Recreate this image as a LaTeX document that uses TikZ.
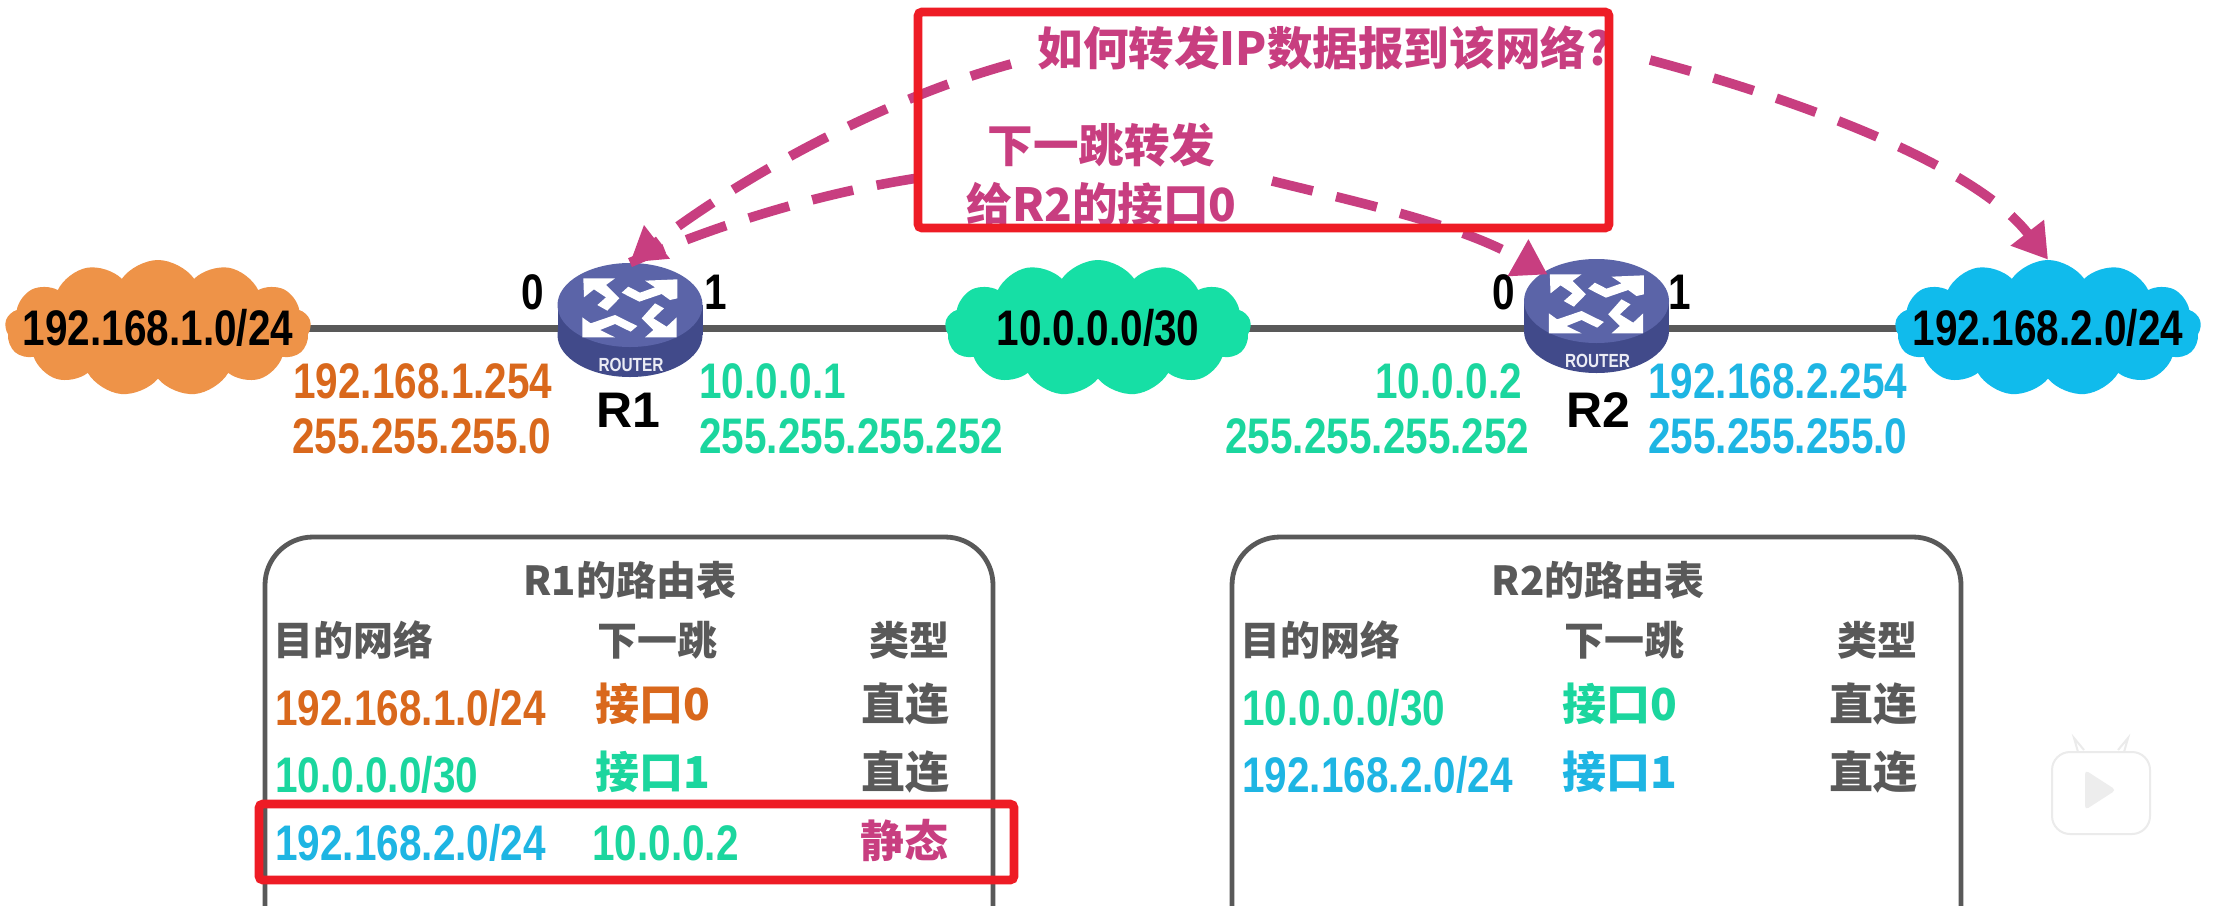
\documentclass[tikz,border=0pt]{standalone}
\usepackage{fontspec}
\usetikzlibrary{shapes.symbols,shapes.geometric,arrows.meta,backgrounds}
\newfontfamily\cnd[FakeStretch=0.81]{Liberation Sans}
\newfontfamily\plainb{Liberation Sans}
\newfontfamily\cjk{Noto Sans CJK SC}
\definecolor{corange}{HTML}{EE9348}
\definecolor{cgreen}{HTML}{16DFA5}
\definecolor{cblue}{HTML}{10BBEC}
\definecolor{torange}{HTML}{D9681C}
\definecolor{tgreen}{HTML}{1BD69E}
\definecolor{tblue}{HTML}{1EB5E3}
\definecolor{pinkc}{HTML}{C83E80}
\definecolor{redc}{HTML}{EE1C25}
\definecolor{greyc}{HTML}{595959}
\definecolor{rtop}{HTML}{5B64A8}
\definecolor{rside}{HTML}{414A8A}
\tikzset{
  netcloud/.style={cloud,cloud puffs=13,cloud puff arc=110,aspect=2.05,draw=none,inner sep=0pt,
    minimum width=153pt,minimum height=68pt,text=black,font=\cnd\bfseries\fontsize{25}{25}\selectfont},
  hub/.style={ellipse,minimum width=72.5pt,minimum height=57pt,inner sep=0pt},
  link/.style={draw=greyc,line width=3.5pt},
  ptr/.style={draw=pinkc,line width=4.8pt,dash pattern=on 21pt off 12pt,-{Triangle[length=17pt,width=20pt]}},
  ptrplain/.style={draw=pinkc,line width=4.8pt,dash pattern=on 21pt off 12pt},
  redbox/.style={draw=redc,line width=4.4pt,rounded corners=2pt},
  tablebox/.style={draw=greyc,line width=2.4pt,rounded corners=24pt},
  ip/.style={inner sep=0pt,anchor=west,font=\cnd\bfseries\fontsize{25}{25}\selectfont},
  port/.style={inner sep=0pt,text=black,font=\cnd\bfseries\fontsize{25}{25}\selectfont},
  rname/.style={inner sep=0pt,text=black,font=\plainb\bfseries\fontsize{25}{25}\selectfont},
  cn/.style={inner sep=0pt,anchor=west,font=\cjk\bfseries\fontsize{20}{20}\selectfont},
  cnbig/.style={inner sep=0pt,anchor=west,font=\cjk\bfseries\fontsize{22}{22}\selectfont},
  talk/.style={inner sep=0pt,anchor=west,text=pinkc,font=\cjk\bfseries\fontsize{22.8}{22.8}\selectfont},
  glyph/.style={fill=white},
}
\newcommand\routerglyph[3]{%
  \begin{scope}[shift={(#1,#2)}]
    \fill[rside] (0,30) ellipse [x radius=72.5,y radius=42];
    \fill[rside] (-72.5,0) rectangle (72.5,30);
    \fill[rtop] (0,0) ellipse [x radius=72.5,y radius=42];
    \node[inner sep=0pt,text=white!88!rtop,font=\cnd\bfseries\fontsize{9.5}{9.5}\selectfont] (#3) at (1,60) {ROUTER};
    \begin{scope}[x=0.16667pt,y=-0.16667pt,shift={(-330,-195)}]
      \fill[glyph] (190,115)--(285,115)--(258,135)--(298,175)--(262,212)--(232,195)--(258,172)--(222,148)--(192,172)--cycle;
      \fill[glyph] (472,118)--(375,122)--(405,142)--(360,158)--(325,140)--(305,158)--(358,185)--(425,162)--(450,180)--(472,175)--cycle;
      \fill[glyph] (187,292)--(187,232)--(212,250)--(285,225)--(352,258)--(332,275)--(285,252)--(240,270)--(285,292)--cycle;
      \fill[glyph] (470,292)--(375,292)--(400,270)--(365,235)--(405,190)--(432,205)--(400,235)--(440,260)--(470,232)--cycle;
    \end{scope}
  \end{scope}}
\begin{document}
\begin{tikzpicture}[x=0.5pt,y=-0.5pt]
\useasboundingbox (0,0) rectangle (2214,905);
\clip (0,0) rectangle (2214,905);
% hubs (invisible anchors for the routers)
\node[hub] (r1) at (630,320) {};
\node[hub] (r2) at (1596.5,317) {};
% clouds
\node[netcloud,fill=corange] (c1) at (158,328) {\makebox[0pt]{192.168.1.0/24}};
\node[netcloud,fill=cgreen] (c2) at (1098,328) {\makebox[0pt]{10.0.0.0/30}};
\node[netcloud,fill=cblue] (c3) at (2048,328) {\makebox[0pt]{192.168.2.0/24}};
\begin{scope}[on background layer]
  \fill[white] (0,0) rectangle (2214,905);
  \draw[link] (c1.center) -- (c1.center -| r1.center);
  \draw[link] (c1.center -| r1.center) -- (c2.center);
  \draw[link] (c2.center) -- (c2.center -| r2.center);
  \draw[link] (c2.center -| r2.center) -- (c3.center);
\end{scope}
\routerglyph{630}{305}{rt1}
\routerglyph{1596.5}{301}{rt2}
% ports and names
\node[port] (p10) at (533,292) {0};
\node[port] (p11) at (716,292) {1};
\node[port] (p20) at (1504,292) {0};
\node[port] (p21) at (1680,292) {1};
\node[rname] (n1) at (628,410) {R1};
\node[rname] (n2) at (1598,410) {R2};
% addresses
\node[ip,text=torange] (a1) at (293,381) {192.168.1.254};
\node[ip,text=torange] (a2) at (292,436) {255.255.255.0};
\node[ip,text=tgreen] (a3) at (699,381) {10.0.0.1};
\node[ip,text=tgreen] (a4) at (699,436) {255.255.255.252};
\node[ip,text=tgreen] (a5) at (1375,381) {10.0.0.2};
\node[ip,text=tgreen] (a6) at (1225,436) {255.255.255.252};
\node[ip,text=tblue] (a7) at (1648,381) {192.168.2.254};
\node[ip,text=tblue] (a8) at (1648,436) {255.255.255.0};
% callouts
\node[talk] (q) at (1037,48) {如何转发IP数据报到该网络?};
\node[talk] (h1) at (987,145) {下一跳转发};
\node[talk] (h2) at (966,204) {给R2的接口0};
\coordinate (qa) at (1011,64);
\coordinate (qb) at (1650,60);
\coordinate (ha) at (918,178);
\coordinate (hb) at (1272,181);
\draw[ptr] (qa) .. controls (880,100) and (740,178) .. (r1.north);
\draw[ptrplain] (ha) .. controls (840,190) and (740,215) .. (r1.north);
\draw[ptr] (hb) .. controls (1370,205) and (1460,225) .. (r2.139);
\draw[ptr] (qb) .. controls (1800,100) and (1975,165) .. (c3.north);
\draw[redbox] (918,12) rectangle (1609,228);
% table R1
\draw[tablebox] (265,960) -- (265,537) -- (993,537) -- (993,960);
\node[cn,anchor=center,text=greyc] (t1) at (630,580) {R1的路由表};
\node[cn,text=greyc] (t1a) at (273,640) {目的网络};
\node[cn,text=greyc] (t1b) at (597,640) {下一跳};
\node[cn,text=greyc] (t1c) at (869,640) {类型};
\node[ip,text=torange] (t1d) at (275,708) {192.168.1.0/24};
\node[cnbig,text=torange] (t1e) at (595,704) {接口0};
\node[cnbig,text=greyc] (t1f) at (861,704) {直连};
\node[ip,text=tgreen] (t1g) at (275,775) {10.0.0.0/30};
\node[cnbig,text=tgreen] (t1h) at (595,772) {接口1};
\node[cnbig,text=greyc] (t1i) at (861,772) {直连};
\node[ip,text=tblue] (t1j) at (275,843) {192.168.2.0/24};
\node[ip,text=tgreen] (t1k) at (592,843) {10.0.0.2};
\node[cnbig,text=pinkc] (t1l) at (860,840) {静态};
\draw[redbox] (259,804) rectangle (1014,880);
% table R2
\draw[tablebox] (1232,960) -- (1232,537) -- (1961,537) -- (1961,960);
\node[cn,anchor=center,text=greyc] (t2) at (1598,580) {R2的路由表};
\node[cn,text=greyc] (t2a) at (1240,640) {目的网络};
\node[cn,text=greyc] (t2b) at (1564,640) {下一跳};
\node[cn,text=greyc] (t2c) at (1837,640) {类型};
\node[ip,text=tgreen] (t2d) at (1242,708) {10.0.0.0/30};
\node[cnbig,text=tgreen] (t2e) at (1562,704) {接口0};
\node[cnbig,text=greyc] (t2f) at (1829,704) {直连};
\node[ip,text=tblue] (t2g) at (1242,775) {192.168.2.0/24};
\node[cnbig,text=tblue] (t2h) at (1562,772) {接口1};
\node[cnbig,text=greyc] (t2i) at (1829,772) {直连};
% watermark
\draw[line width=1pt,draw=black!8,fill=white] (2078,752) -- (2074,738) -- (2084,750);
\draw[line width=1pt,draw=black!8,fill=white] (2124,752) -- (2128,738) -- (2118,750);
\draw[line width=1pt,draw=black!8,fill=white,rounded corners=9pt] (2052,752) rectangle (2150,834);
\fill[black!7,rounded corners=2pt] (2085,770) -- (2085,810) -- (2116,790) -- cycle;
\end{tikzpicture}
\end{document}
